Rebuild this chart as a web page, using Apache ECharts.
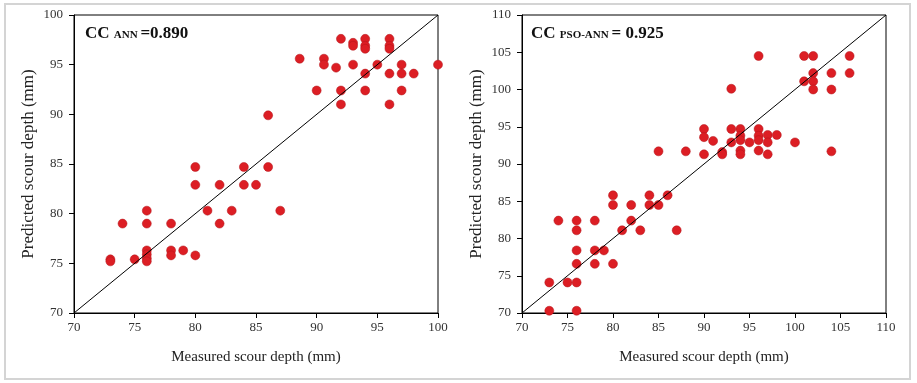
<!DOCTYPE html>
<html>
<head>
<meta charset="utf-8">
<script src="https://cdn.jsdelivr.net/npm/echarts@6/dist/echarts.min.js"></script>
<style>
  html, body { margin: 0; padding: 0; background: #fff; }
  #chart { width: 917px; height: 383px; }
</style>
</head>
<body>
<div id="chart"></div>
<script>
// ANN model: measured vs predicted scour depth (mm)
var annMeasured = [92, 93, 93, 94, 94, 94, 96, 96, 96,
  88.6, 90.6, 90.6, 91.6, 93, 95, 97, 100,
  94, 96, 97, 98,
  90, 92, 94, 97,
  92, 96,
  86,
  80, 84, 86,
  80, 82, 84, 85,
  76, 81, 83, 87,
  74, 76, 78, 82,
  76, 78, 79,
  76, 78, 80,
  73, 75, 76,
  73, 76]
var annPredicted = [97.6, 97.2, 96.9, 97.6, 96.9, 96.6, 97.6, 96.9, 96.6,
  95.6, 95.6, 95.0, 94.7, 95.0, 95.0, 95.0, 95.0,
  94.1, 94.1, 94.1, 94.1,
  92.4, 92.4, 92.4, 92.4,
  91.0, 91.0,
  89.9,
  84.7, 84.7, 84.7,
  82.9, 82.9, 82.9, 82.9,
  80.3, 80.3, 80.3, 80.3,
  79.0, 79.0, 79.0, 79.0,
  76.3, 76.3, 76.3,
  75.9, 75.8, 75.8,
  75.4, 75.4, 75.5,
  75.2, 75.2]

// PSO-ANN model
var psoMeasured = [96, 101, 102, 106,
  102, 104, 106,
  101, 102,
  102, 104, 93,
  90, 93, 94, 96,
  90, 91, 93, 94, 94, 95, 96, 96, 97, 97, 98, 100,
  85, 88, 90, 92, 92, 94, 94, 96, 97, 104,
  80, 84, 86,
  80, 82, 84, 85,
  74, 76, 78, 82,
  76, 81, 83, 87,
  76, 78, 79,
  76, 78, 80,
  73, 75, 76,
  73, 76]
var psoPredicted = [104.5, 104.5, 104.5, 104.5,
  102.2, 102.2, 102.2,
  101.1, 101.1,
  100.0, 100.0, 100.1,
  94.7, 94.7, 94.7, 94.7,
  93.6, 93.1, 92.9, 93.8, 93.2, 92.9, 93.8, 93.2, 93.9, 92.9, 93.9, 92.9,
  91.7, 91.7, 91.3, 91.6, 91.3, 91.8, 91.3, 91.8, 91.3, 91.7,
  85.8, 85.8, 85.8,
  84.5, 84.5, 84.5, 84.5,
  82.4, 82.4, 82.4, 82.4,
  81.1, 81.1, 81.1, 81.1,
  78.4, 78.4, 78.4,
  76.6, 76.6, 76.6,
  74.1, 74.1, 74.1,
  70.3, 70.3]

var annLine = [70, 100]
var psoLine = [70, 110]
var annLabel = '=0.890'
var psoLabel = '= 0.925'

function pairs(xs, ys) {
  return xs.map(function (x, i) { return [x, ys[i]] })
}

var font = 'Liberation Serif'
var dotColor = '#dc1e24'

function xAxisOf(idx, min, max) {
  return {
    gridIndex: idx,
    type: 'value',
    min: min,
    max: max,
    interval: 5,
    name: 'Measured scour depth (mm)',
    nameLocation: 'middle',
    nameGap: 37,
    nameTextStyle: { fontFamily: font, fontSize: 15, color: '#222' },
    axisLine: { lineStyle: { color: '#000', width: 1 } },
    axisTick: { length: 5, lineStyle: { color: '#000' } },
    axisLabel: { fontFamily: font, fontSize: 13, color: '#333', margin: 8 },
    splitLine: { show: false }
  }
}

function yAxisOf(idx, min, max) {
  return {
    gridIndex: idx,
    type: 'value',
    min: min,
    max: max,
    interval: 5,
    name: 'Predicted scour depth (mm)',
    nameLocation: 'middle',
    nameGap: 37,
    nameTextStyle: { fontFamily: font, fontSize: 17, color: '#222' },
    axisLine: { lineStyle: { color: '#000', width: 1 } },
    axisTick: { length: 5, lineStyle: { color: '#000' } },
    axisLabel: { fontFamily: font, fontSize: 13, color: '#333', margin: 11 },
    splitLine: { show: false }
  }
}

function titleOf(left, sub, val) {
  return {
    left: left,
    top: 20,
    text: '{a|CC }{b|' + sub + ' }{a|' + val + '}',
    textStyle: {
      rich: {
        a: { fontFamily: font, fontSize: 17, fontWeight: 'bold', color: '#111', verticalAlign: 'bottom' },
        b: { fontFamily: font, fontSize: 11, fontWeight: 'bold', color: '#111', verticalAlign: 'bottom', padding: [0, 0, 1, 0] }
      }
    }
  }
}

var chart = echarts.init(document.getElementById('chart'))
chart.setOption({
  backgroundColor: '#fff',
  animation: false,
  title: [titleOf(80, 'ANN', annLabel), titleOf(526, 'PSO-ANN', psoLabel)],
  graphic: [{
    type: 'rect',
    shape: { x: 5, y: 4, width: 905, height: 375 },
    style: { fill: 'none', stroke: '#d4d4d4', lineWidth: 2 },
    silent: true
  }],
  grid: [
    { left: 74, top: 15, width: 364, height: 298, show: true, borderColor: '#000', borderWidth: 1 },
    { left: 522, top: 15, width: 364, height: 298, show: true, borderColor: '#000', borderWidth: 1 }
  ],
  xAxis: [xAxisOf(0, 70, 100), xAxisOf(1, 70, 110)],
  yAxis: [yAxisOf(0, 70, 100), yAxisOf(1, 70, 110)],
  series: [
    {
      type: 'line', xAxisIndex: 0, yAxisIndex: 0, silent: true,
      data: pairs(annLine, annLine), symbol: 'none',
      lineStyle: { color: '#000', width: 1 }
    },
    {
      type: 'scatter', xAxisIndex: 0, yAxisIndex: 0,
      data: pairs(annMeasured, annPredicted), symbolSize: 9,
      itemStyle: { color: dotColor, borderColor: '#b3141a', borderWidth: 0.5, opacity: 1 }
    },
    {
      type: 'line', xAxisIndex: 1, yAxisIndex: 1, silent: true,
      data: pairs(psoLine, psoLine), symbol: 'none',
      lineStyle: { color: '#000', width: 1 }
    },
    {
      type: 'scatter', xAxisIndex: 1, yAxisIndex: 1,
      data: pairs(psoMeasured, psoPredicted), symbolSize: 9,
      itemStyle: { color: dotColor, borderColor: '#b3141a', borderWidth: 0.5, opacity: 1 }
    }
  ]
})
</script>
</body>
</html>
